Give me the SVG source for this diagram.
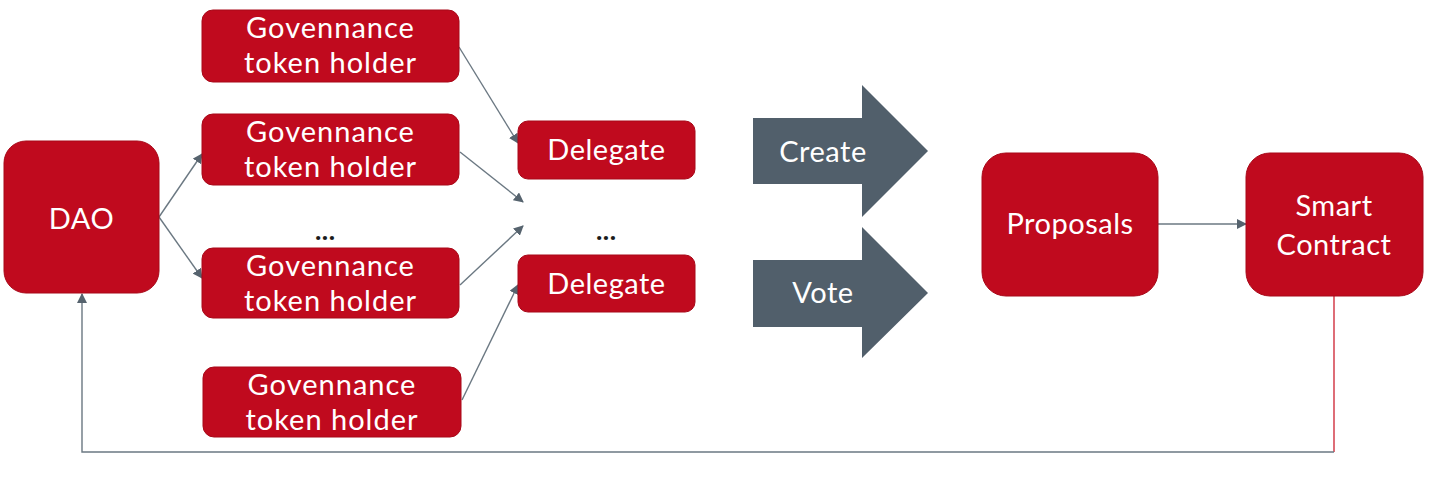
<svg xmlns="http://www.w3.org/2000/svg" width="1447" height="478" viewBox="0 0 1447 478">
<style>
.box{fill:#c00a1e;stroke:#a80818;stroke-width:1}
.t{font-family:Lato,"Open Sans","Liberation Sans",sans-serif;font-size:29px;letter-spacing:0.5px;fill:#ffffff;text-anchor:middle}
.g{letter-spacing:1px}
.dots{font-family:"Open Sans","Liberation Sans",sans-serif;font-size:24px;font-weight:bold;fill:#1a1a1a;text-anchor:middle}
.c{stroke:#6b7882;stroke-width:1.4;fill:none}
.big{fill:#515f6b}
</style>
<defs>
<marker id="ah" viewBox="0 0 10 10" refX="9" refY="5" markerWidth="10" markerHeight="10" markerUnits="userSpaceOnUse" orient="auto">
<path d="M0,0 L10,5 L0,10 z" fill="#56636e"/>
</marker>
</defs>
<rect width="1447" height="478" fill="#ffffff"/>
<g id="connectors">
<line class="c" x1="159" y1="217" x2="202" y2="154" marker-end="url(#ah)"/>
<line class="c" x1="159" y1="217" x2="202" y2="278" marker-end="url(#ah)"/>
<line class="c" x1="459" y1="47" x2="518" y2="143" marker-end="url(#ah)"/>
<line class="c" x1="460" y1="152" x2="523" y2="202" marker-end="url(#ah)"/>
<line class="c" x1="460" y1="285" x2="523" y2="226" marker-end="url(#ah)"/>
<line class="c" x1="462" y1="400" x2="518" y2="285" marker-end="url(#ah)"/>
<line class="c" x1="1158" y1="224" x2="1246" y2="224" marker-end="url(#ah)"/>
<line x1="1334" y1="296" x2="1334" y2="452" stroke="#d0303e" stroke-width="1.4"/>
<polyline class="c" points="1334,452 82,452 82,294" marker-end="url(#ah)"/>
</g>
<g id="dao"><rect class="box" x="4" y="141" width="155" height="152" rx="22"/><text class="t" x="81.5" y="229">DAO</text></g>
<g id="holder1"><rect class="box" x="202" y="10" width="257" height="72" rx="11"/><text class="t g" x="330.5" y="38">Govennance</text><text class="t g" x="330.5" y="73">token holder</text></g>
<g id="holder2"><rect class="box" x="202" y="114" width="257" height="71" rx="11"/><text class="t g" x="330.5" y="142">Govennance</text><text class="t g" x="330.5" y="177">token holder</text></g>
<text class="dots" x="325" y="240">...</text>
<g id="holder3"><rect class="box" x="202" y="248" width="257" height="70" rx="11"/><text class="t g" x="330.5" y="276">Govennance</text><text class="t g" x="330.5" y="311">token holder</text></g>
<g id="holder4"><rect class="box" x="203" y="367" width="258" height="70" rx="11"/><text class="t g" x="332" y="395">Govennance</text><text class="t g" x="332" y="430">token holder</text></g>
<g id="delegate1"><rect class="box" x="518" y="121" width="177" height="58" rx="10"/><text class="t" x="606.5" y="160">Delegate</text></g>
<text class="dots" x="606" y="240">...</text>
<g id="delegate2"><rect class="box" x="518" y="255" width="177" height="57" rx="10"/><text class="t" x="606.5" y="294">Delegate</text></g>
<g id="create"><polygon class="big" points="753,118 862,118 862,85 928,151 862,217 862,184 753,184"/><text class="t" x="823" y="162">Create</text></g>
<g id="vote"><polygon class="big" points="753,260 862,260 862,227 928,293 862,358 862,327 753,327"/><text class="t" x="823" y="303">Vote</text></g>
<g id="proposals"><rect class="box" x="982" y="153" width="176" height="143" rx="24"/><text class="t" x="1070" y="234">Proposals</text></g>
<g id="smart"><rect class="box" x="1246" y="153" width="177" height="143" rx="24"/><text class="t" x="1334" y="216">Smart</text><text class="t" x="1334" y="255">Contract</text></g>
</svg>
